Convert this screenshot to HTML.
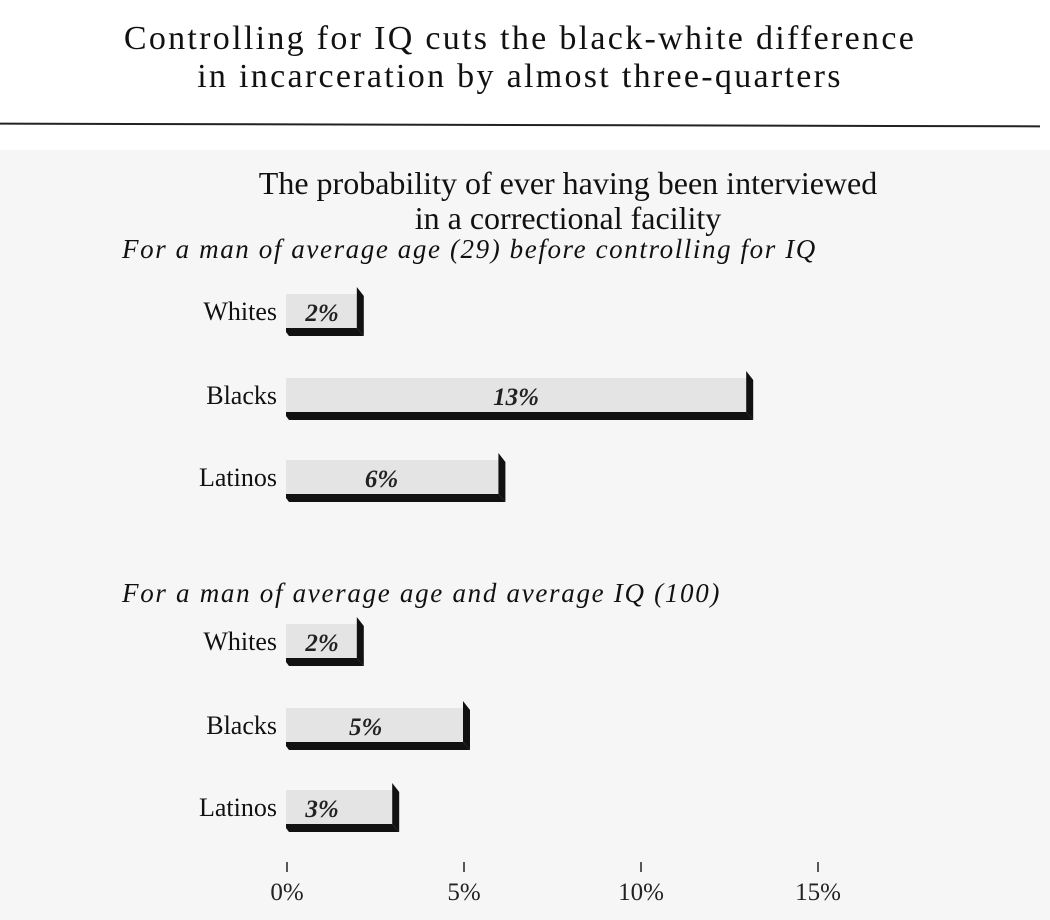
<!DOCTYPE html>
<html><head><meta charset="utf-8">
<style>
html,body{margin:0;padding:0;background:#fff;}
#wrap{position:relative;width:1050px;height:920px;overflow:hidden;font-family:"Liberation Serif",serif;color:#111;background:#fff;}
#tint{position:absolute;left:0;top:150px;width:1050px;height:770px;background:#f6f6f6;}
.t{position:absolute;white-space:nowrap;}
</style></head>
<body>
<div id="wrap">
<div id="tint"></div>
<div class="t" style="left:0;width:1040px;text-align:center;top:20px;font-size:34px;letter-spacing:2.3px;">Controlling for IQ cuts the black-white difference</div>
<div class="t" style="left:0;width:1040px;text-align:center;top:58px;font-size:34px;letter-spacing:2.3px;">in incarceration by almost three-quarters</div>
<div style="position:absolute;left:0;top:124px;width:1040px;height:2px;background:#222;transform:rotate(0.15deg);"></div>
<div class="t" style="left:0;width:1136px;text-align:center;top:165px;font-size:32px;">The probability of ever having been interviewed</div>
<div class="t" style="left:0;width:1136px;text-align:center;top:200px;font-size:32px;">in a correctional facility</div>
<div class="t" style="left:122px;top:234px;font-size:27px;font-style:italic;letter-spacing:1.6px;">For a man of average age (29) before controlling for IQ</div>
<div class="t" style="left:122px;top:578px;font-size:27px;font-style:italic;letter-spacing:1.7px;">For a man of average age and average IQ (100)</div>
<svg id="chart" width="1050" height="920" style="position:absolute;left:0;top:0"></svg>
</div>
<script>
const categories = ["Whites","Blacks","Latinos"];
const panel1Values = [2,13,6];
const panel2Values = [2,5,3];
const tickValues = [0,5,10,15];
const tickLabels = ["0%","5%","10%","15%"];

const NS="http://www.w3.org/2000/svg";
const svg=document.getElementById('chart');
const x0=286, pxPer=35.4;
function xScale(v){return x0+v*pxPer;}
function mk(tag,attrs,parent){const e=document.createElementNS(NS,tag);for(const k in attrs)e.setAttribute(k,attrs[k]);(parent||svg).appendChild(e);return e;}

const panels=[{vals:panel1Values,rows:[294,378,460],id:"panel-1"},{vals:panel2Values,rows:[624,708,790],id:"panel-2"}];
panels.forEach(p=>{
  p.vals.forEach((v,i)=>{
    const y=p.rows[i], h=34, xe=xScale(v);
    const g=mk('g',{});
    
    
    mk('rect',{x:x0,y:y,width:xe-x0,height:h,fill:'#e4e4e4'},g);
    mk('polygon',{points:`${x0},${y+h} ${xe},${y+h} ${xe+7},${y+h+8} ${x0+3},${y+h+8} ${x0},${y+h+4}`,fill:'#111'},g);
    mk('polygon',{points:`${xe},${y-7} ${xe+7},${y+2} ${xe+7},${y+h+8} ${xe},${y+h}`,fill:'#111'},g);
    const lab=mk('text',{x:x0-9,y:y+26,'text-anchor':'end','font-size':26,'font-family':'Liberation Serif, serif',fill:'#111'},g);
    lab.textContent=categories[i];
    
    
    const cx = v>=10 ? (x0+xe)/2 : (v<=3 ? x0+36 : x0+(xe-x0)*0.45);
    const val=mk('text',{x:cx,y:y+27,'text-anchor':'middle','font-size':25,'font-weight':'bold','font-style':'italic','font-family':'Liberation Serif, serif',fill:'#222'},g);
    val.textContent=v+'%';
    
    
  });
});
tickValues.forEach((t,i)=>{
  const x=xScale(t)+1;
  const tk=mk('line',{x1:x,x2:x,y1:862,y2:872,stroke:'#222','stroke-width':1.5});
  
  
  const tl=mk('text',{x:x,y:900,'text-anchor':'middle','font-size':25,'font-family':'Liberation Serif, serif',fill:'#222'});
  tl.textContent=tickLabels[i];
  
  
});
</script>
</body></html>
